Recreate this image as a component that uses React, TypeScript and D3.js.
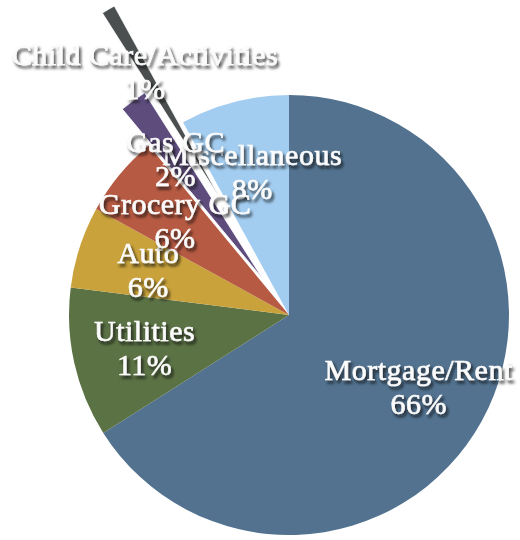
import React from "react";
import * as d3 from "d3";

// ---- data ----
const categories = [
  "Mortgage/Rent",
  "Utilities",
  "Auto",
  "Grocery GC",
  "Gas GC",
  "Child Care/Activities",
  "Miscellaneous",
];
const values = [66, 11, 6, 6, 2, 1, 8];

// ---- styling / layout ----
const W = 520;
const H = 540;
const cx = 289;
const cy = 315;
const R = 220;
const labelR = 148;
const colors = ["#52728f", "#5b7245", "#c9a23c", "#b65a43", "#5e4d7c", "#4b4f4f", "#a3cdf0"];
const explodeBy: Record<string, number> = { "Gas GC": 45, "Child Care/Activities": 135 };
const labelOrder = [6, 0, 1, 2, 3, 4, 5];

export default function App() {
  const pie = d3.pie<number>().sort(null).value((d) => d);
  const arcs = pie(values);
  const arc = d3.arc<d3.PieArcDatum<number>>().innerRadius(0).outerRadius(R);
  const labelArc = d3.arc<d3.PieArcDatum<number>>().innerRadius(labelR).outerRadius(labelR);

  const offset = (i: number) => {
    const a = arcs[i];
    const mid = (a.startAngle + a.endAngle) / 2;
    const e = explodeBy[categories[i]] || 0;
    return [Math.sin(mid) * e, -Math.cos(mid) * e];
  };

  return (
    <svg
      width={W}
      height={H}
      style={{ position: "absolute", left: 0, top: 0, background: "#ffffff" }}
    >
      <defs>
        <filter id="shadow" x="-20%" y="-40%" width="140%" height="180%">
          <feDropShadow dx="2" dy="3" stdDeviation="1.8" floodColor="#111111" floodOpacity="0.8" />
        </filter>
      </defs>
      <g transform={`translate(${cx},${cy})`}>
        {arcs.map((a, i) => {
          const [dx, dy] = offset(i);
          return (
            <path
              key={categories[i]}
              d={arc(a) || ""}
              transform={`translate(${dx},${dy})`}
              fill={colors[i]}
              stroke={explodeBy[categories[i]] ? "#ffffff" : "none"}
              strokeWidth={0.8}
            />
          );
        })}
        {labelOrder.map((i) => {
          const a = arcs[i];
          const [dx, dy] = offset(i);
          const [lx, ly] = labelArc.centroid(a);
          const x = lx + dx;
          const y = ly + dy;
          return (
            <g
              key={"l" + i}
              filter="url(#shadow)"
              fill="#fbfbfb"
              stroke="#fbfbfb"
              strokeWidth={0.6}
              fontFamily="'Liberation Serif', 'Times New Roman', serif"
              fontSize={30}
              letterSpacing={0.5}
              textAnchor="middle"
            >
              <text x={x} y={y - 17} dominantBaseline="central">
                {categories[i]}
              </text>
              <text x={x} y={y + 17} dominantBaseline="central">
                {`${values[i]}%`}
              </text>
            </g>
          );
        })}
      </g>
    </svg>
  );
}
